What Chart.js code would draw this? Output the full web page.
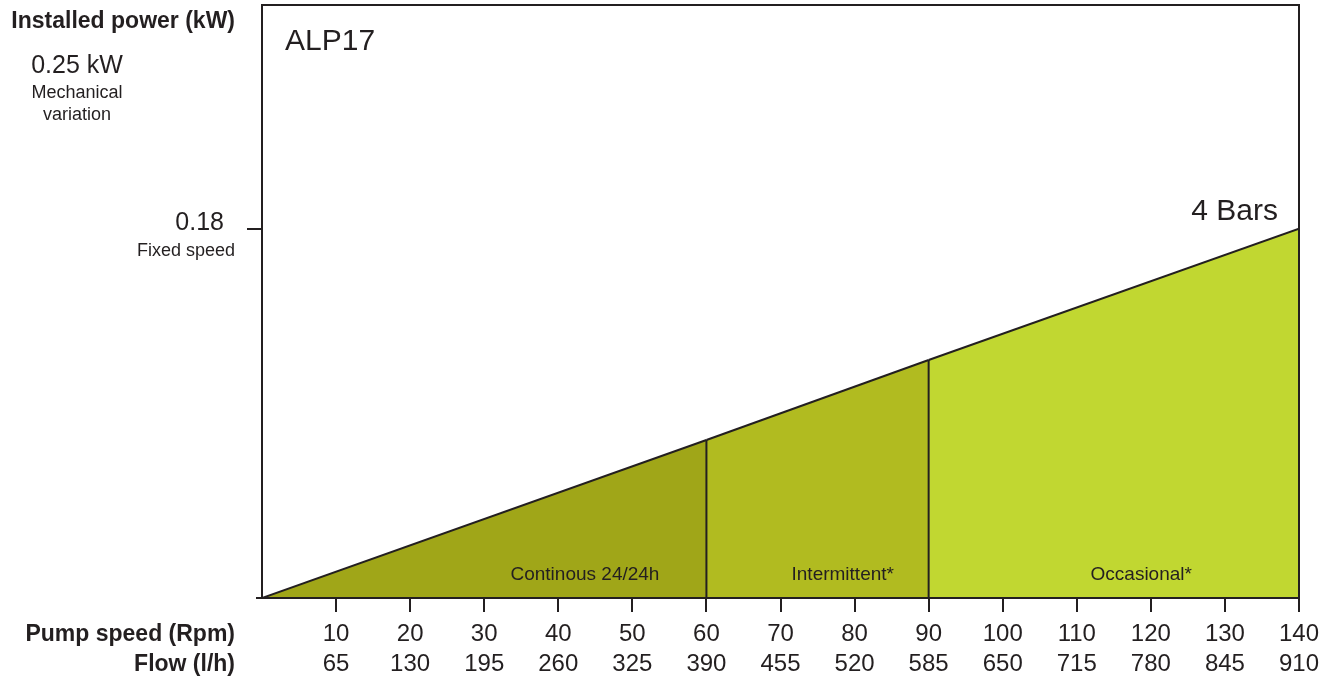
<!DOCTYPE html>
<html>
<head>
<meta charset="utf-8">
<script src="https://cdn.jsdelivr.net/npm/chart.js@4/dist/chart.umd.min.js"></script>
<style>
  html, body { margin: 0; padding: 0; background: #fff; }
  #wrap { width: 1333px; height: 680px; }
</style>
</head>
<body>
<div id="wrap"><canvas id="pumpChart" width="1333" height="680"></canvas></div>
<script>
// values
const speedTicks = [10, 20, 30, 40, 50, 60, 70, 80, 90, 100, 110, 120, 130, 140];
const flowTicks = [65, 130, 195, 260, 325, 390, 455, 520, 585, 650, 715, 780, 845, 910];
const zoneBounds = [0, 60, 90, 140];
const zonePower = [0, 0.077, 0.116, 0.18];
const zoneNames = ['Continous 24/24h', 'Intermittent*', 'Occasional*'];
const zoneLabelAt = [43.6, 78.4, 118.7];
const fixedSpeedPower = 0.18;
const yMax = 0.289;

const ink = '#231f20';
const zoneColors = ['#a0a618', '#b1bb20', '#c1d731'];
const font = '"Liberation Sans", Arial, Helvetica, sans-serif';

const datasets = [];
for (let i = 0; i < zoneNames.length; i++) {
  datasets.push({
    data: [
      { x: zoneBounds[i], y: zonePower[i] },
      { x: zoneBounds[i + 1], y: zonePower[i + 1] }
    ],
    backgroundColor: zoneColors[i],
    borderColor: ink,
    borderWidth: 2,
    pointRadius: 0,
    fill: 'origin',
    order: 2
  });
}
// separators between zones
for (let i = 1; i < zoneBounds.length - 1; i++) {
  datasets.push({
    data: [
      { x: zoneBounds[i], y: 0 },
      { x: zoneBounds[i], y: zonePower[i] }
    ],
    borderColor: ink,
    borderWidth: 2,
    pointRadius: 0,
    fill: false,
    order: 1
  });
}

const textPlugin = {
  id: 'textPlugin',
  afterDraw(chart) {
    const ctx = chart.ctx;
    const a = chart.chartArea;
    const xs = chart.scales.x;
    const ys = chart.scales.y;
    ctx.save();

    // box around the plot
    ctx.strokeStyle = ink;
    ctx.lineWidth = 2;
    ctx.strokeRect(a.left, a.top, a.right - a.left, a.bottom - a.top);
    ctx.beginPath();
    ctx.moveTo(a.left - 6, a.bottom);
    ctx.lineTo(a.left, a.bottom);
    ctx.stroke();

    ctx.fillStyle = ink;
    ctx.textBaseline = 'middle';

    // left side texts
    ctx.textAlign = 'right';
    ctx.font = 'bold 23px ' + font;
    ctx.fillText('Installed power (kW)', a.left - 27, 22);

    ctx.textAlign = 'center';
    ctx.font = '25px ' + font;
    ctx.fillText('0.25 kW', 77, 66);
    ctx.font = '18px ' + font;
    ctx.fillText('Mechanical', 77, 93);
    ctx.fillText('variation', 77, 115);

    const y18 = ys.getPixelForValue(fixedSpeedPower);
    ctx.textAlign = 'right';
    ctx.font = '25px ' + font;
    ctx.fillText('0.18', a.left - 38, y18 - 6);
    ctx.font = '18px ' + font;
    ctx.fillText('Fixed speed', a.left - 27, y18 + 22);

    // axis row titles
    ctx.font = 'bold 23px ' + font;
    ctx.fillText('Pump speed (Rpm)', a.left - 27, 635);
    ctx.fillText('Flow (l/h)', a.left - 27, 665);

    // inside the plot
    ctx.textAlign = 'left';
    ctx.font = '30px ' + font;
    ctx.fillText('ALP17', a.left + 23, 42);
    ctx.textAlign = 'right';
    ctx.fillText('4 Bars', a.right - 21, y18 - 17);

    ctx.textAlign = 'center';
    ctx.font = '19px ' + font;
    for (let i = 0; i < zoneNames.length; i++) {
      ctx.fillText(zoneNames[i], xs.getPixelForValue(zoneLabelAt[i]), ys.getPixelForValue(0.0112));
    }
    ctx.restore();
  }
};

new Chart(document.getElementById('pumpChart'), {
  type: 'line',
  data: { datasets: datasets },
  plugins: [textPlugin],
  options: {
    responsive: false,
    animation: false,
    layout: { padding: { left: 0, right: 34, top: 5, bottom: 0 } },
    plugins: { legend: { display: false }, tooltip: { enabled: false } },
    scales: {
      x: {
        type: 'linear',
        min: 0,
        max: 140,
        afterBuildTicks: s => { s.ticks = speedTicks.map(v => ({ value: v })); },
        afterFit: s => { s.height = 82; },
        border: { display: false },
        grid: {
          drawOnChartArea: false,
          drawTicks: true,
          tickLength: 14,
          color: ink,
          lineWidth: 2
        },
        ticks: {
          autoSkip: false,
          maxRotation: 0,
          padding: 7,
          color: ink,
          font: { family: font, size: 24, lineHeight: 1.25 },
          callback: v => {
            const i = speedTicks.indexOf(v);
            return i < 0 ? '' : [String(speedTicks[i]), String(flowTicks[i])];
          }
        }
      },
      y: {
        type: 'linear',
        min: 0,
        max: yMax,
        afterBuildTicks: s => { s.ticks = [{ value: fixedSpeedPower }]; },
        afterFit: s => { s.width = 262; },
        border: { display: false },
        grid: {
          drawOnChartArea: false,
          drawTicks: true,
          tickLength: 15,
          color: ink,
          lineWidth: 2
        },
        ticks: { display: false }
      }
    }
  }
});
</script>
</body>
</html>
